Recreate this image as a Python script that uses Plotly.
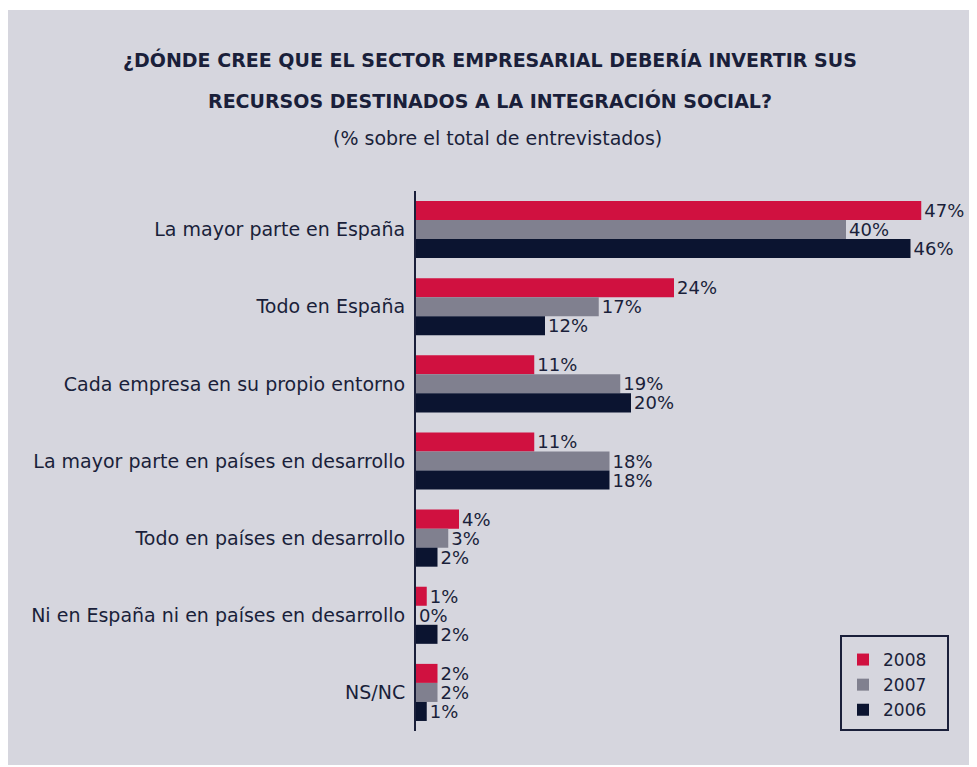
import plotly.graph_objects as go

categories = [
    "La mayor parte en España",
    "Todo en España",
    "Cada empresa en su propio entorno",
    "La mayor parte en países en desarrollo",
    "Todo en países en desarrollo",
    "Ni en España ni en países en desarrollo",
    "NS/NC",
]
v2008 = [47, 24, 11, 11, 4, 1, 2]
v2007 = [40, 17, 19, 18, 3, 0, 2]
v2006 = [46, 12, 20, 18, 2, 2, 1]
series_names = ["2008", "2007", "2006"]
colors = ["#d01140", "#80808f", "#0b1430"]

# page body has an 8px margin; figure is sized to fit inside the window
OFF = 8
W, H = 977 - OFF, 767 - OFF
L, R, T, B = 408, 2, 183, 36
pw, ph = W - L - R, H - T - B

def px_x(x):
    return (x - OFF - L) / pw

def px_y(y):
    return (H - B - (y - OFF)) / ph

TXT = "#1a1f3a"
FONT = "DejaVu Sans"

fig = go.Figure()
for name, vals, col in zip(series_names, [v2008, v2007, v2006], colors):
    fig.add_trace(go.Bar(
        name=name, y=categories, x=vals, orientation="h",
        marker=dict(color=col, line=dict(width=0)),
        text=[f"{v}%" for v in vals], textposition="outside",
        textfont=dict(size=18, color=TXT, family=FONT),
        constraintext="none", cliponaxis=False,
    ))

fig.update_layout(
    width=W, height=H,
    margin=dict(l=L, r=R, t=T, b=B, autoexpand=False),
    paper_bgcolor="white", plot_bgcolor="rgba(0,0,0,0)",
    barmode="group", bargap=0.26, bargroupgap=0,
    font=dict(family=FONT, color=TXT, size=17),
    xaxis=dict(range=[0, 52], visible=False, fixedrange=True),
    yaxis=dict(autorange="reversed", showline=True, linecolor=TXT, linewidth=2,
               ticks="", ticklabelstandoff=5, showgrid=False,
               tickfont=dict(size=19, color=TXT, family=FONT)),
    legend=dict(x=px_x(843), y=px_y(728), xanchor="left", yanchor="bottom",
                bgcolor="rgba(0,0,0,0)", borderwidth=0,
                font=dict(size=17, color=TXT, family=FONT), traceorder="normal",
                itemwidth=30),
    showlegend=True,
)

fig.add_shape(type="rect", xref="paper", yref="paper", layer="below",
              x0=px_x(6), x1=px_x(975), y0=px_y(765), y1=px_y(10),
              fillcolor="#d6d6de", line=dict(width=0))
fig.add_shape(type="rect", xref="paper", yref="paper", layer="above",
              x0=px_x(841), x1=px_x(948), y0=px_y(730), y1=px_y(636),
              fillcolor="rgba(0,0,0,0)", line=dict(width=2, color=TXT))

fig.add_annotation(xref="paper", yref="paper", x=px_x(490), y=px_y(60),
                   text="<b>¿DÓNDE CREE QUE EL SECTOR EMPRESARIAL DEBERÍA INVERTIR SUS</b>",
                   showarrow=False, font=dict(size=19, color=TXT, family=FONT),
                   xanchor="center", yanchor="middle")
fig.add_annotation(xref="paper", yref="paper", x=px_x(490), y=px_y(100),
                   text="<b>RECURSOS DESTINADOS A LA INTEGRACIÓN SOCIAL?</b>",
                   showarrow=False, font=dict(size=19, color=TXT, family=FONT),
                   xanchor="center", yanchor="middle")
fig.add_annotation(xref="paper", yref="paper", x=px_x(497), y=px_y(138),
                   text="(% sobre el total de entrevistados)",
                   showarrow=False, font=dict(size=19, color=TXT, family=FONT),
                   xanchor="center", yanchor="middle")

fig.write_html("out.html")
